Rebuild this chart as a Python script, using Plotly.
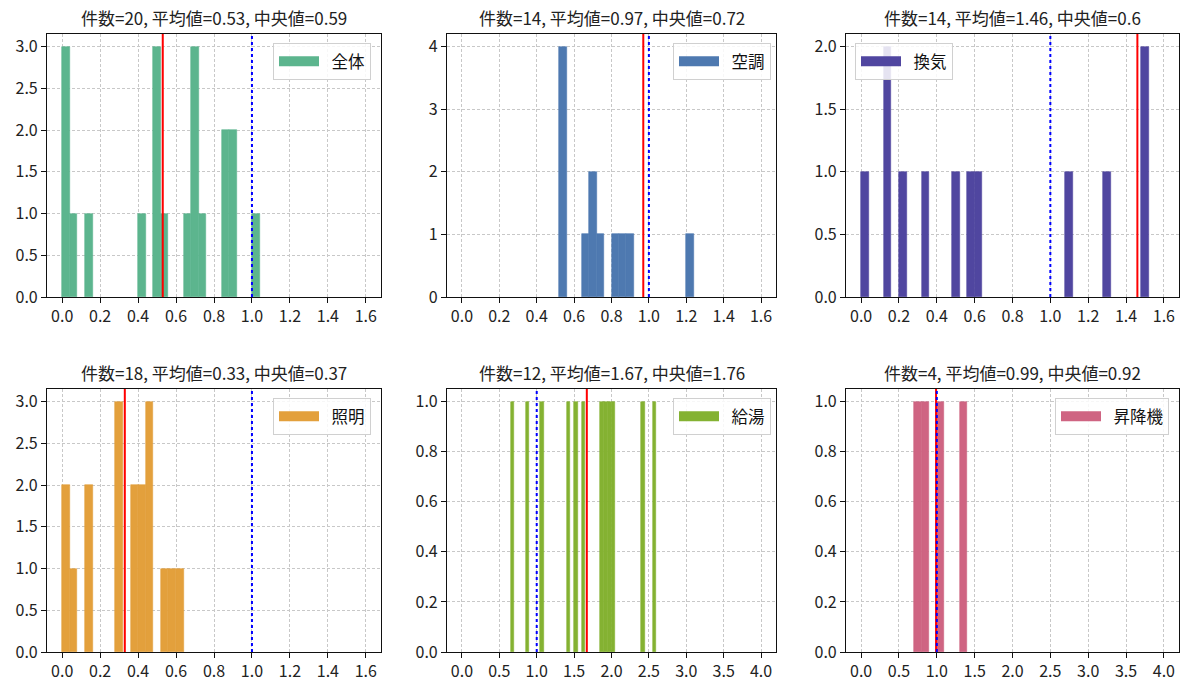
import plotly.graph_objects as go
from plotly.subplots import make_subplots

# ---------------- data ----------------
categories = ["全体", "空調", "換気", "照明", "給湯", "昇降機"]
counts_n = [20, 14, 14, 18, 12, 4]
means = [0.53, 0.97, 1.46, 0.33, 1.67, 0.99]
medians = [0.59, 0.72, 0.6, 0.37, 1.76, 0.92]
ref_value = 1.0

bin_width = [0.04, 0.04, 0.04, 0.04, 0.05, 0.1]

zentai_left = [0.00, 0.04, 0.12, 0.40, 0.48, 0.52, 0.64, 0.68, 0.72, 0.84, 0.88, 1.00]
zentai_cnt = [3, 1, 1, 1, 3, 1, 1, 3, 1, 2, 2, 1]
kucho_left = [0.52, 0.64, 0.68, 0.72, 0.80, 0.84, 0.88, 1.20]
kucho_cnt = [4, 1, 2, 1, 1, 1, 1, 1]
kanki_left = [0.00, 0.12, 0.20, 0.32, 0.48, 0.56, 0.60, 1.08, 1.28, 1.48]
kanki_cnt = [1, 2, 1, 1, 1, 1, 1, 1, 1, 2]
shomei_left = [0.00, 0.04, 0.12, 0.28, 0.36, 0.40, 0.44, 0.52, 0.56, 0.60]
shomei_cnt = [2, 1, 2, 3, 2, 2, 3, 1, 1, 1]
kyuto_left = [0.65, 0.85, 1.05, 1.40, 1.50, 1.60, 1.85, 1.90, 1.95, 2.00, 2.40, 2.55]
kyuto_cnt = [1, 1, 1, 1, 1, 1, 1, 1, 1, 1, 1, 1]
shokoki_left = [0.70, 0.80, 1.00, 1.30]
shokoki_cnt = [1, 1, 1, 1]

bin_lefts = [zentai_left, kucho_left, kanki_left, shomei_left, kyuto_left, shokoki_left]
bin_counts = [zentai_cnt, kucho_cnt, kanki_cnt, shomei_cnt, kyuto_cnt, shokoki_cnt]

x_ticks_top = [0.0, 0.2, 0.4, 0.6, 0.8, 1.0, 1.2, 1.4, 1.6]
x_ticks_bottom = [0.0, 0.5, 1.0, 1.5, 2.0, 2.5, 3.0, 3.5, 4.0]

# ---------------- style ----------------
colors = ["#5cb58e", "#4e79b0", "#5046a0", "#e3a03c", "#84b232", "#cf6482"]
FONT = "Noto Sans CJK JP"
W, H = 1187, 683

col_px = [(47, 381), (447, 776), (846, 1179)]
row_px = [(34, 297), (389, 652)]
x_ranges = [[-0.08, 1.68]] * 4 + [[-0.2, 4.2], [-0.2, 4.2]]
y_ranges = [[0, 3.15], [0, 4.2], [0, 2.1], [0, 3.15], [0, 1.05], [0, 1.05]]
y_dticks = [0.5, 1, 0.5, 0.5, 0.2, 0.2]
y_fmt = [".1f", "d", ".1f", ".1f", ".1f", ".1f"]
legend_pos = [("right", 371, 43), ("right", 771, 43), ("left", 855, 43),
              ("right", 371, 398), ("right", 771, 398), ("right", 1169, 398)]


def px_x(p):
    return p / W


def px_y(p):
    return 1 - p / H


axis_common = dict(showline=True, mirror=True, linecolor="#111", linewidth=1.1,
                   ticks="outside", ticklen=5, tickcolor="#111", tickwidth=1,
                   showgrid=True, gridcolor="#c8c8c8", griddash="3px,2px", gridwidth=0.8,
                   zeroline=False, automargin=False,
                   tickfont=dict(size=16, color="#222", family=FONT))

fig = make_subplots(rows=2, cols=3)
layout_upd = {}
for i, cat in enumerate(categories):
    r, c = divmod(i, 3)
    xa = "x" if i == 0 else f"x{i+1}"
    ya = "y" if i == 0 else f"y{i+1}"
    lg = "legend" if i == 0 else f"legend{i+1}"
    fig.add_trace(go.Bar(x=bin_lefts[i], y=bin_counts[i], width=bin_width[i], offset=0,
                         marker=dict(color=colors[i], line=dict(width=0.6, color=colors[i])),
                         showlegend=False, hoverinfo="x+y"), row=r + 1, col=c + 1)
    fig.add_trace(go.Scatter(x=[None], y=[None], mode="lines", name="\u00a0\u00a0" + cat,
                             line=dict(color=colors[i], width=11),
                             legend=lg, showlegend=True), row=r + 1, col=c + 1)
    x0, x1 = col_px[c]
    y0, y1 = row_px[r]
    xticks = x_ticks_bottom if i >= 4 else x_ticks_top
    layout_upd["xaxis" if i == 0 else f"xaxis{i+1}"] = dict(
        domain=[px_x(x0), px_x(x1)], range=x_ranges[i], tickvals=xticks,
        ticktext=[f"{v:.1f}" for v in xticks], **axis_common)
    layout_upd["yaxis" if i == 0 else f"yaxis{i+1}"] = dict(
        domain=[px_y(y1), px_y(y0)], range=y_ranges[i], dtick=y_dticks[i], tick0=0,
        tickformat=y_fmt[i], **axis_common)
    anch, lx, ly = legend_pos[i]
    layout_upd[lg] = dict(x=px_x(lx), y=px_y(ly), xanchor=anch, yanchor="top",
                          bgcolor="rgba(255,255,255,0.85)", bordercolor="#d0d0d0",
                          borderwidth=1, font=dict(size=16.5, family=FONT, color="#111"),
                          itemwidth=40, tracegroupgap=0)
    fig.add_shape(type="line", x0=means[i], x1=means[i], y0=0, y1=1,
                  xref=xa, yref=f"{ya} domain", line=dict(color="red", width=2))
    fig.add_shape(type="line", x0=ref_value, x1=ref_value, y0=0, y1=1,
                  xref=xa, yref=f"{ya} domain", line=dict(color="blue", width=2, dash="dot"))
    fig.add_annotation(text=f"件数={counts_n[i]}, 平均値={means[i]}, 中央値={medians[i]}",
                       x=px_x((x0 + x1) / 2), y=px_y(y0), xref="paper", yref="paper",
                       xanchor="center", yanchor="bottom", yshift=2, showarrow=False,
                       font=dict(size=17, family=FONT, color="#222"))

fig.update_layout(width=W, height=H, margin=dict(l=0, r=0, t=0, b=0, autoexpand=False),
                  plot_bgcolor="white", paper_bgcolor="white",
                  font=dict(family=FONT, size=15, color="#222"),
                  bargap=0, **layout_upd)
css_js = ("var s='margin:0;padding:0;overflow:hidden;height:683px;width:1187px';"
          "document.documentElement.style.cssText=s;document.body.style.cssText=s;")
fig.write_html("out.html", config={"displayModeBar": False}, post_script=css_js)
